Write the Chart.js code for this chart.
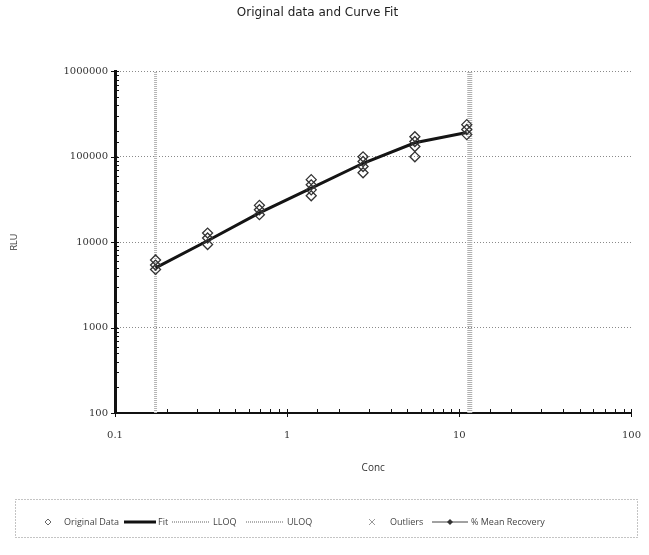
<!DOCTYPE html>
<html>
<head>
<meta charset="utf-8">
<script src="https://cdn.jsdelivr.net/npm/chart.js@4.4.0/dist/chart.umd.min.js"></script>
<style>
  html, body { margin: 0; padding: 0; background: #fff; }
</style>
</head>
<body>
<canvas id="graficoCurva" width="649" height="555"></canvas>
<script>
// concentrations (2-fold dilutions) and replicate RLU readings
var conc = [0.172, 0.345, 0.69, 1.38, 2.76, 5.52, 11.05];
var rluRep1 = [6200, 12800, 27000, 54000, 100000, 172000, 238000];
var rluRep2 = [5400, 11200, 24000, 47000, 88000, 151000, 209000];
var rluRep3 = [4800, 9400, 21000, 41000, 77000, 132000, 182000];
var rluRep4 = [null, null, null, 35000, 65000, 100000, null];
var fitRlu = [5000, 10400, 22000, 43000, 84000, 146000, 193000];
var lloq = 0.172;
var uloq = 11.5;
var xTickLabels = ["0.1", "1", "10", "100"];
var yTickLabels = ["100", "1000", "10000", "100000", "1000000"];

function isDecade(v) {
  var l = Math.log10(v);
  return Math.abs(l - Math.round(l)) < 1e-6;
}

var originalPts = [];
[rluRep1, rluRep2, rluRep3, rluRep4].forEach(function (rep) {
  rep.forEach(function (v, i) {
    if (v !== null) originalPts.push({ x: conc[i], y: v });
  });
});
var fitPts = conc.map(function (c, i) { return { x: c, y: fitRlu[i] }; });

// minor ticks inside the plot + dotted legend box under the chart
var extrasPlugin = {
  id: "extras",
  afterDatasetsDraw: function (chart) {
    var ctx = chart.ctx;
    var xs = chart.scales.x, ys = chart.scales.y;
    var area = chart.chartArea;
    ctx.save();
    ctx.strokeStyle = "#111";
    ctx.lineWidth = 1;
    ys.ticks.forEach(function (t) {
      var py = Math.round(ys.getPixelForValue(t.value)) + 0.5;
      var major = isDecade(t.value);
      ctx.beginPath();
      ctx.moveTo(area.left - (major ? 4 : 0), py);
      ctx.lineTo(area.left + 4, py);
      ctx.stroke();
    });
    xs.ticks.forEach(function (t) {
      var px = Math.round(xs.getPixelForValue(t.value)) + 0.5;
      var major = isDecade(t.value);
      ctx.beginPath();
      ctx.moveTo(px, area.bottom + (major ? 4 : 0));
      ctx.lineTo(px, area.bottom - 4);
      ctx.stroke();
    });
    ctx.restore();
  },
  afterDraw: function (chart) {
    var ctx = chart.ctx;
    ctx.save();
    ctx.strokeStyle = "#888";
    ctx.lineWidth = 1;
    ctx.setLineDash([1, 2]);
    ctx.strokeRect(15.5, 499.5, 622, 38);
    ctx.setLineDash([]);

    var ly = 522;
    ctx.font = "9px 'Open Sans'";
    ctx.fillStyle = "#444";
    ctx.textBaseline = "middle";

    function diamond(x, y, r) {
      ctx.beginPath();
      ctx.moveTo(x, y - r); ctx.lineTo(x + r, y); ctx.lineTo(x, y + r); ctx.lineTo(x - r, y);
      ctx.closePath();
      ctx.stroke();
    }
    function seg(x1, x2, w, color, dash) {
      ctx.save();
      ctx.strokeStyle = color; ctx.lineWidth = w;
      ctx.setLineDash(dash || []);
      ctx.beginPath(); ctx.moveTo(x1, ly); ctx.lineTo(x2, ly); ctx.stroke();
      ctx.restore();
    }

    ctx.strokeStyle = "#666";
    diamond(48, ly, 3);
    ctx.fillText("Original Data", 64, ly);
    seg(124, 156, 3, "#111");
    ctx.fillText("Fit", 158, ly);
    seg(172, 210, 2, "#b0b0b0", [1, 1]);
    ctx.fillText("LLOQ", 213, ly);
    seg(246, 284, 2, "#b0b0b0", [1, 1]);
    ctx.fillText("ULOQ", 287, ly);
    ctx.strokeStyle = "#999";
    ctx.beginPath();
    ctx.moveTo(369, ly - 3); ctx.lineTo(375, ly + 3);
    ctx.moveTo(375, ly - 3); ctx.lineTo(369, ly + 3);
    ctx.stroke();
    ctx.fillText("Outliers", 390, ly);
    seg(432, 468, 1, "#444");
    ctx.fillStyle = "#333";
    ctx.beginPath();
    ctx.moveTo(450, ly - 3); ctx.lineTo(453, ly); ctx.lineTo(450, ly + 3); ctx.lineTo(447, ly);
    ctx.closePath(); ctx.fill();
    ctx.fillStyle = "#444";
    ctx.fillText("% Mean Recovery", 471, ly);
    ctx.restore();
  }
};

var ctx = document.getElementById("graficoCurva").getContext("2d");
var grafico = new Chart(ctx, {
  type: "scatter",
  data: {
    datasets: [
      {
        label: "Original Data",
        data: originalPts,
        showLine: false,
        pointStyle: "rectRot",
        pointRadius: 5,
        pointBorderColor: "#333",
        pointBackgroundColor: "rgba(255,255,255,0)",
        pointBorderWidth: 1.3,
        order: 0
      },
      {
        label: "Fit",
        data: fitPts,
        showLine: true,
        borderColor: "#141414",
        borderWidth: 3,
        pointRadius: 0,
        order: 1
      },
      {
        label: "LLOQ",
        data: [{ x: lloq, y: 100 }, { x: lloq, y: 1000000 }],
        showLine: true,
        borderColor: "#b5b5b5",
        borderWidth: 3,
        borderDash: [1, 1],
        pointRadius: 0,
        order: 3
      },
      {
        label: "ULOQ",
        data: [{ x: uloq, y: 100 }, { x: uloq, y: 1000000 }],
        showLine: true,
        borderColor: "#b0b0b0",
        borderWidth: 5,
        borderDash: [1, 1],
        pointRadius: 0,
        order: 3
      }
    ]
  },
  options: {
    responsive: false,
    animation: false,
    layout: { padding: { left: 0, right: 14, top: 0, bottom: 77 } },
    plugins: {
      legend: { display: false },
      tooltip: { enabled: false },
      title: {
        display: true,
        text: "Original data and Curve Fit",
        color: "#222",
        font: { family: "'DejaVu Sans'", size: 12, weight: "normal", lineHeight: 1.2 },
        padding: { top: 6, bottom: 51 }
      }
    },
    scales: {
      x: {
        type: "logarithmic",
        position: "bottom",
        min: 0.1,
        max: 100,
        afterFit: function (s) { s.height = 65; },
        grid: { display: false },
        border: { display: true, color: "#111", width: 2 },
        ticks: {
          autoSkip: false,
          maxRotation: 0,
          padding: 8,
          color: "#333",
          font: { family: "'DejaVu Serif'", size: 10 },
          callback: function (v) {
            if (!isDecade(v)) return "";
            return xTickLabels[Math.round(Math.log10(v)) + 1];
          }
        },
        title: {
          display: true,
          text: "Conc",
          color: "#333",
          font: { family: "'Open Sans'", size: 10 },
          padding: { top: 0, bottom: 4 }
        }
      },
      y: {
        type: "logarithmic",
        min: 100,
        max: 1000000,
        afterFit: function (s) { s.width = 115; },
        grid: {
          drawTicks: false,
          color: function (c) {
            return c.tick && isDecade(c.tick.value) ? "#8a8a8a" : "rgba(0,0,0,0)";
          },
          lineWidth: 1
        },
        border: { display: true, color: "#111", width: 3, dash: [1, 2] },
        ticks: {
          autoSkip: false,
          padding: 7,
          color: "#333",
          font: { family: "'DejaVu Serif'", size: 10 },
          callback: function (v) {
            if (!isDecade(v)) return "";
            return yTickLabels[Math.round(Math.log10(v)) - 2];
          }
        },
        title: {
          display: true,
          text: "RLU",
          color: "#333",
          font: { family: "'Open Sans'", size: 9 },
          padding: { top: 9, bottom: 4 }
        }
      }
    }
  },
  plugins: [extrasPlugin]
});
</script>
</body>
</html>
